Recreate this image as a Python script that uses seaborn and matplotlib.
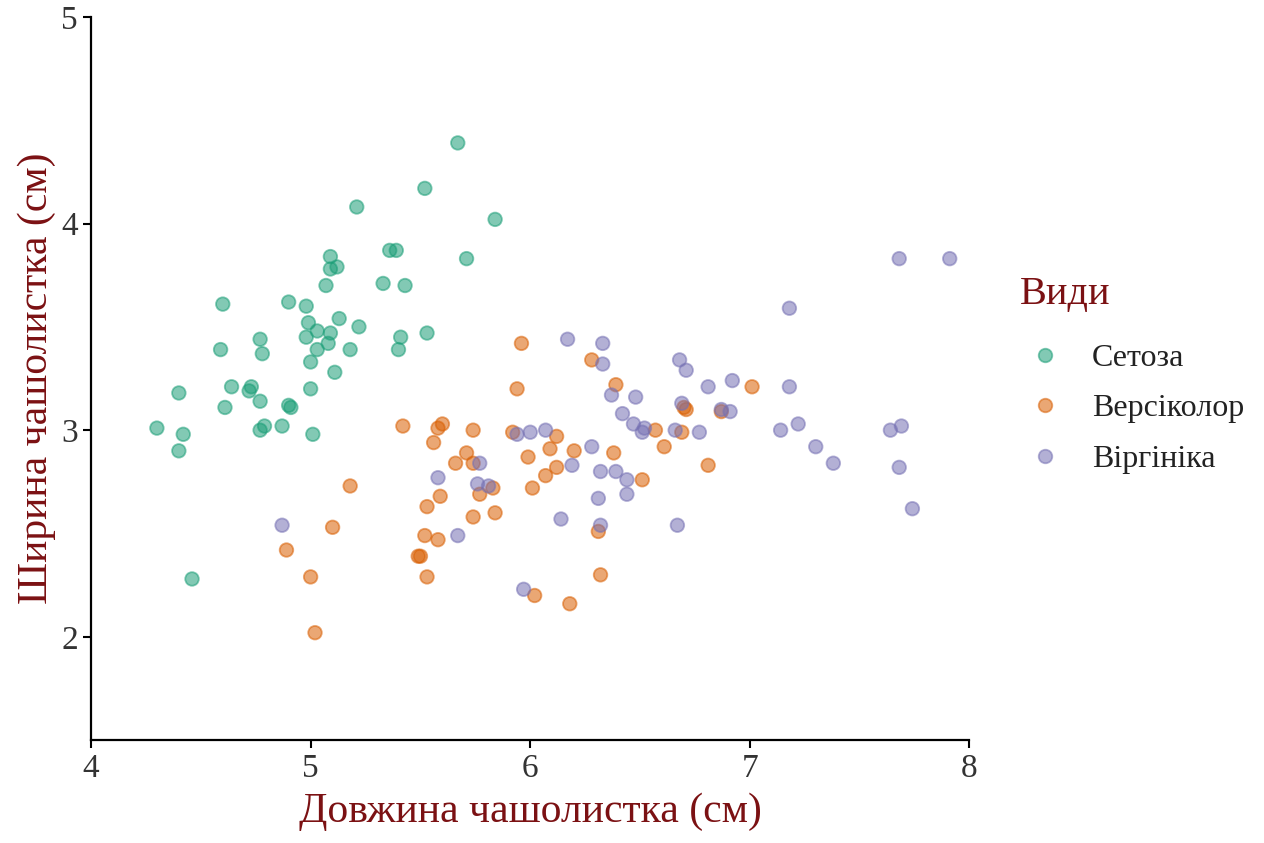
import matplotlib
matplotlib.use("Agg")
import matplotlib.pyplot as plt
import seaborn as sns
import pandas as pd

species = ["Сетоза", "Версіколор", "Віргініка"]

setosa_x = [5.67, 5.52, 5.21, 5.84, 5.36, 5.39, 5.09, 5.09, 5.12, 5.71,
            5.07, 5.33, 5.43, 4.60, 4.90, 4.98, 4.99, 5.13, 5.22, 5.03,
            5.09, 5.53, 4.77, 4.98, 5.41, 5.08, 4.59, 5.03, 5.18, 5.40,
            4.78, 5.00, 5.11, 4.40, 4.64, 4.73, 4.72, 4.77, 5.00, 4.61,
            4.90, 4.91, 4.30, 4.42, 4.40, 4.79, 4.77, 4.87, 5.01, 4.46]
setosa_y = [4.39, 4.17, 4.08, 4.02, 3.87, 3.87, 3.84, 3.78, 3.79, 3.83,
            3.70, 3.71, 3.70, 3.61, 3.62, 3.60, 3.52, 3.54, 3.50, 3.48,
            3.47, 3.47, 3.44, 3.45, 3.45, 3.42, 3.39, 3.39, 3.39, 3.39,
            3.37, 3.33, 3.28, 3.18, 3.21, 3.21, 3.19, 3.14, 3.20, 3.11,
            3.12, 3.11, 3.01, 2.98, 2.90, 3.02, 3.00, 3.02, 2.98, 2.28]

versicolor_x = [5.96, 5.94, 5.42, 5.58, 5.60, 5.74, 5.92, 6.12, 5.56, 5.71,
                5.66, 5.74, 5.99, 6.09, 6.20, 6.38, 6.12, 6.07, 6.51, 5.83,
                6.01, 5.59, 5.77, 5.53, 5.74, 5.84, 6.31, 5.52, 5.58, 5.49,
                5.50, 5.53, 6.32, 6.02, 6.18, 5.18, 5.10, 4.89, 5.00, 5.02,
                6.28, 6.39, 6.57, 6.69, 6.61, 6.70, 6.71, 6.87, 7.01, 6.81]
versicolor_y = [3.42, 3.20, 3.02, 3.01, 3.03, 3.00, 2.99, 2.97, 2.94, 2.89,
                2.84, 2.84, 2.87, 2.91, 2.90, 2.89, 2.82, 2.78, 2.76, 2.72,
                2.72, 2.68, 2.69, 2.63, 2.58, 2.60, 2.51, 2.49, 2.47, 2.39,
                2.39, 2.29, 2.30, 2.20, 2.16, 2.73, 2.53, 2.42, 2.29, 2.02,
                3.34, 3.22, 3.00, 2.99, 2.92, 3.11, 3.10, 3.09, 3.21, 2.83]

virginica_x = [7.18, 6.17, 6.33, 6.33, 6.68, 6.71, 6.37, 6.48, 6.81, 6.92,
               7.18, 6.69, 6.87, 6.91, 6.42, 6.47, 6.52, 6.51, 6.66, 6.77,
               7.14, 7.22, 7.64, 7.69, 6.28, 7.30, 7.38, 6.19, 6.32, 6.39,
               6.44, 7.68, 6.31, 6.44, 7.74, 6.14, 6.32, 6.67, 5.94, 6.00,
               6.07, 5.77, 5.58, 5.76, 5.81, 5.67, 4.87, 5.97, 7.68, 7.91]
virginica_y = [3.59, 3.44, 3.42, 3.32, 3.34, 3.29, 3.17, 3.16, 3.21, 3.24,
               3.21, 3.13, 3.10, 3.09, 3.08, 3.03, 3.01, 2.99, 3.00, 2.99,
               3.00, 3.03, 3.00, 3.02, 2.92, 2.92, 2.84, 2.83, 2.80, 2.80,
               2.76, 2.82, 2.67, 2.69, 2.62, 2.57, 2.54, 2.54, 2.98, 2.99,
               3.00, 2.84, 2.77, 2.74, 2.73, 2.49, 2.54, 2.23, 3.83, 3.83]

x_ticks = [4, 5, 6, 7, 8]
y_ticks = [2, 3, 4, 5]

df = pd.DataFrame({
    "x": setosa_x + versicolor_x + virginica_x,
    "y": setosa_y + versicolor_y + virginica_y,
    "sp": [species[0]] * len(setosa_x) + [species[1]] * len(versicolor_x)
          + [species[2]] * len(virginica_x),
})

sns.set_style("white")
plt.rcParams["font.family"] = ["Liberation Serif", "DejaVu Serif"]
red = "#7b1113"

fig = plt.figure(figsize=(12.64, 8.43), dpi=100)
ax = fig.add_axes([0.072, 0.122, 0.695, 0.858])

sns.scatterplot(data=df, x="x", y="y", hue="sp", hue_order=species,
                palette="Dark2", alpha=0.55, s=95, edgecolor="face",
                linewidth=1.3, ax=ax)

ax.set_xlim(4, 8)
ax.set_ylim(1.5, 5)
ax.set_xticks(x_ticks)
ax.set_yticks(y_ticks)
ax.tick_params(direction="out", length=6, width=1.5, labelsize=24,
               labelcolor="#333333", color="black", bottom=True, left=True)
for side in ["top", "right"]:
    ax.spines[side].set_visible(False)
for side in ["left", "bottom"]:
    ax.spines[side].set_color("black")
    ax.spines[side].set_linewidth(1.6)

ax.set_xlabel("Довжина чашолистка (см)", fontsize=30, color=red, labelpad=6)
ax.set_ylabel("Ширина чашолистка (см)", fontsize=30, color=red, labelpad=4)

leg = ax.legend(loc="center left", bbox_to_anchor=(1.025, 0.505), frameon=False,
                title="Види", fontsize=23, title_fontsize=29,
                markerscale=1.0, labelspacing=0.66, handlelength=1.56,
                handletextpad=0.69, alignment="left")
leg._legend_box.sep = 22  # a bit more room under the title
leg.get_title().set_color(red)
for t in leg.get_texts():
    t.set_color("#222222")

plt.savefig("out.png", dpi=100)
